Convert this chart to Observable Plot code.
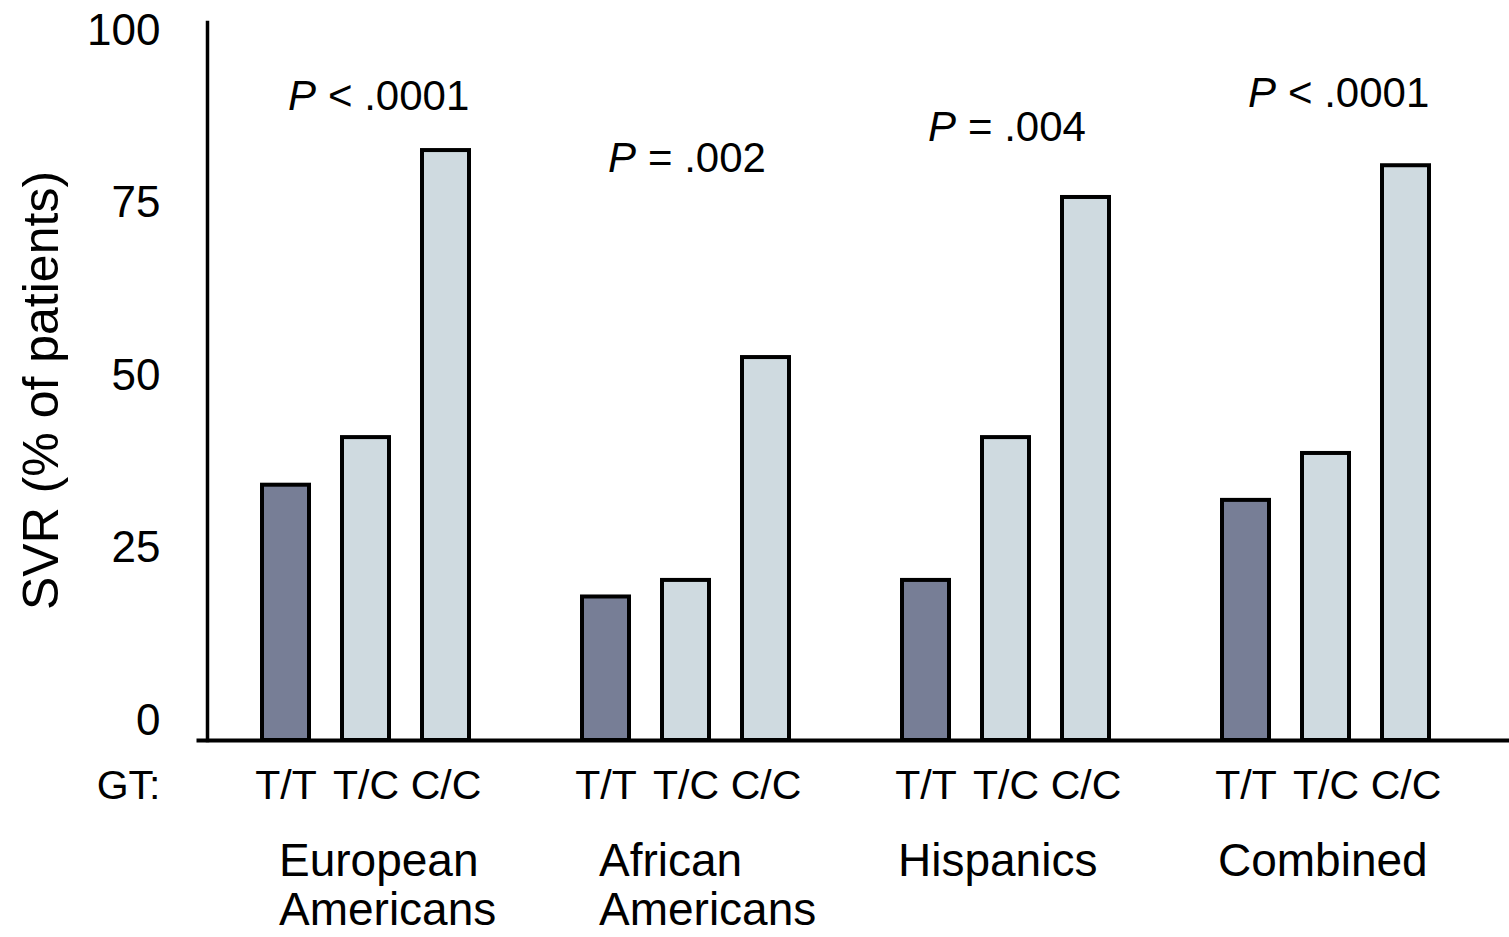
<!DOCTYPE html>
<html><head><meta charset="utf-8">
<script src="https://cdn.jsdelivr.net/npm/d3@7"></script>
<script src="https://cdn.jsdelivr.net/npm/@observablehq/plot@0.6"></script>
<style>html,body{margin:0;padding:0;background:#fff} svg{display:block}</style>
</head><body><div id="chart"></div>
<script>
const groups = ["European Americans", "African Americans", "Hispanics", "Combined"];
const groupLabels = ["European\nAmericans", "African\nAmericans", "Hispanics", "Combined"];
const genotypes = ["T/T", "T/C", "C/C"];
const svrEuropean = [34.1, 41.0, 82.6];
const svrAfrican = [17.9, 20.3, 52.6];
const svrHispanic = [20.3, 41.0, 75.8];
const svrCombined = [31.9, 38.7, 80.4];
const pSymbol = "P";
const pTexts = ["< .0001", "= .002", "= .004", "< .0001"];
const pHeights = [90.5, 81.4, 85.9, 90.8];
const yTicks = [0, 25, 50, 75, 100];
const yLabel = "SVR (% of patients)";
const gtLabel = "GT:";
const yMin = -2.9;

const series = [svrEuropean, svrAfrican, svrHispanic, svrCombined];
const slots = groups.flatMap((g, i) => [
  ...genotypes.map(t => g + "|" + t),
  ...(i < groups.length - 1 ? [g + "|gap"] : [])
]);
const rows = groups.flatMap((g, i) => genotypes.map((t, j) => ({
  group: g, genotype: t, slot: g + "|" + t, value: series[i][j]
})));
const labelRows = groups.map((g, i) => ({slot: g + "|T/T", label: groupLabels[i]}));
const pRows = groups.map((g, i) => ({slot: g + "|T/C", y: pHeights[i], rest: pTexts[i]}));

const font = "'Liberation Sans', Arial, Helvetica, sans-serif";
const dark = "#777e96", light = "#cfdae0";

const chart = Plot.plot({
  width: 1509,
  height: 937,
  marginTop: 30,
  marginBottom: 197,
  marginLeft: 207,
  marginRight: 0,
  style: {fontFamily: font, background: "#fff", color: "#000", overflow: "visible"},
  x: {type: "band", domain: slots, paddingInner: 0.4125, paddingOuter: 0.84375, align: 0.411, axis: null},
  y: {domain: [yMin, 100], axis: null},
  marks: [
    Plot.barY(rows, {
      x: "slot", y1: yMin, y2: "value",
      fill: d => d.genotype === "T/T" ? dark : light,
      stroke: "#000", strokeWidth: 4
    }),
    Plot.frame({anchor: "left", stroke: "#000", strokeWidth: 3.5, insetTop: -8}),
    Plot.frame({anchor: "bottom", stroke: "#000", strokeWidth: 4, insetLeft: -9}),
    Plot.axisY({ticks: yTicks, tickSize: 0, tickPadding: 47, fontSize: 44, label: null, tickFormat: d => String(d)}),
    Plot.axisX({tickSize: 0, tickPadding: 29, fontSize: 41, label: null,
      tickFormat: s => s.endsWith("|gap") ? "" : s.split("|")[1]}),
    Plot.text([gtLabel], {frameAnchor: "bottom-left", textAnchor: "end", lineAnchor: "top", dx: -47, dy: 29, fontSize: 41, fill: "#000"}),
    Plot.text([yLabel], {frameAnchor: "left", rotate: -90, textAnchor: "middle", lineAnchor: "middle", dx: -165.5, dy: 5, fontSize: 50, fill: "#000"}),
    Plot.text(labelRows.filter(d => d.label.includes("\n")), {
      x: "slot", text: "label", frameAnchor: "bottom", textAnchor: "start", lineAnchor: "top",
      lineHeight: 1.06, dx: -7, dy: 101, fontSize: 46, fill: "#000"
    }),
    Plot.text(labelRows.filter(d => !d.label.includes("\n")), {
      x: "slot", text: "label", frameAnchor: "bottom", textAnchor: "start", lineAnchor: "top",
      dx: -28, dy: 103, fontSize: 46, fill: "#000"
    }),
    Plot.text(pRows, {x: "slot", y: "y", text: () => pSymbol, fontStyle: "italic", textAnchor: "end", dx: -50, fontSize: 42, fill: "#000"}),
    Plot.text(pRows, {x: "slot", y: "y", text: "rest", textAnchor: "start", dx: -38, fontSize: 42, fill: "#000"})
  ]
});
document.getElementById("chart").appendChild(chart);
</script>
</body></html>
